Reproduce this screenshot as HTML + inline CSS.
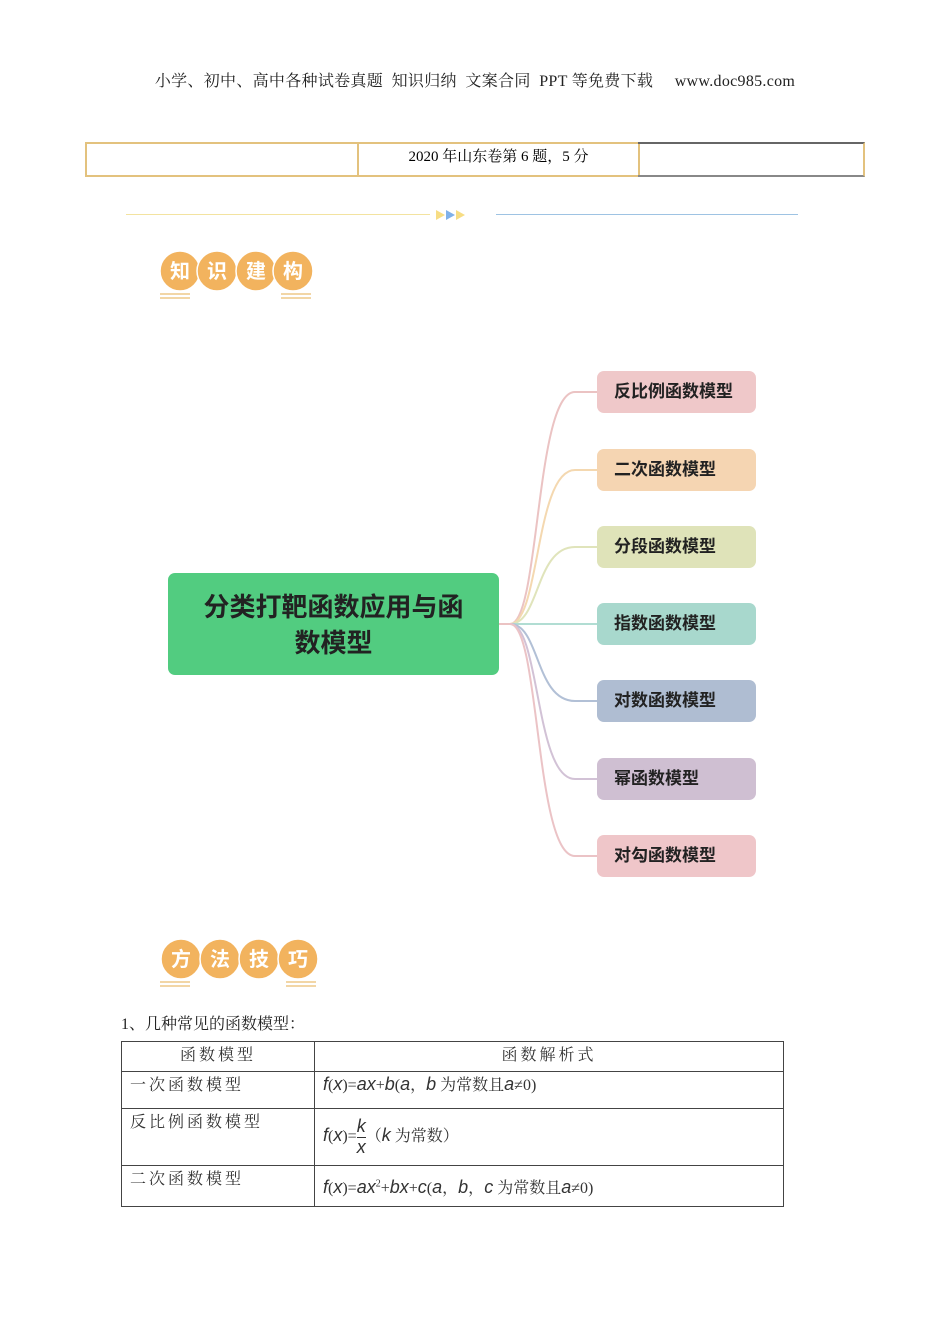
<!DOCTYPE html>
<html><head><meta charset="utf-8"><style>
body{margin:0;width:950px;height:1344px;background:#fff;position:relative;font-family:"Liberation Serif","Noto Serif CJK SC",serif;overflow:hidden}
.a{position:absolute}
.hd{left:0;width:950px;top:68px;text-align:center;font-size:16px;color:#222;letter-spacing:0.3px}
.box{position:absolute;left:597px;width:159px;height:42px;border-radius:7px;font-family:"Liberation Sans","Noto Sans CJK SC",sans-serif;font-weight:bold;font-size:17px;line-height:42px;padding-left:17px;box-sizing:border-box;color:#222}
table{border-collapse:collapse;position:absolute;left:121px;top:1041px;width:663px;font-size:16px;color:#333}
td{border:1px solid #444;vertical-align:top;padding:0 8px;letter-spacing:3px}
i{font-family:"Liberation Sans",sans-serif;font-size:18px}
</style></head><body>
<div class="a hd">小学、初中、高中各种试卷真题&nbsp; 知识归纳&nbsp; 文案合同&nbsp; PPT 等免费下载 &nbsp;&nbsp;&nbsp; www.doc985.com</div>
<div class="a" style="left:85px;top:142px;width:272px;height:31px;border:2px solid #e3c27e;border-right:none"></div>
<div class="a" style="left:357px;top:142px;width:279px;height:31px;border:2px solid #e3c27e;text-align:center;line-height:26px;font-size:15px">2020 年山东卷第 6 题，5 分</div>
<div class="a" style="left:638px;top:142px;width:225px;height:31px;border:2px solid #e3c27e;border-left:none;border-top-color:#666;border-bottom-color:#888"></div>
<div class="a" style="left:126px;top:214px;width:304px;height:1px;background:#f3e3a0"></div>
<div class="a" style="left:496px;top:214px;width:302px;height:1px;background:#9ec3e3"></div>
<svg class="a" style="left:436px;top:208px" width="40" height="14"><polygon points="0,2 9,7 0,12" fill="#f7dd84"/><polygon points="10,2 19,7 10,12" fill="#7fb1ea"/><polygon points="20,2 29,7 20,12" fill="#f7dd84"/></svg>
<svg class="a" style="left:150px;top:245px" width="180" height="60" font-family="Liberation Sans,Noto Sans CJK SC,sans-serif" font-weight="bold" font-size="20" fill="#fff" text-anchor="middle">
<g fill="#f2b35e" stroke="#fff" stroke-width="1.5"><circle cx="30" cy="26" r="20"/><circle cx="67" cy="26" r="20"/><circle cx="106" cy="26" r="20"/><circle cx="143" cy="26" r="20"/></g>
<text x="30" y="33">知</text><text x="67" y="33">识</text><text x="106" y="33">建</text><text x="143" y="33">构</text>
<g fill="#f2d6a6"><rect x="10" y="48" width="30" height="2"/><rect x="10" y="52" width="30" height="2"/><rect x="131" y="48" width="30" height="2"/><rect x="131" y="52" width="30" height="2"/></g></svg>
<svg class="a" style="left:150px;top:933px" width="180" height="60" font-family="Liberation Sans,Noto Sans CJK SC,sans-serif" font-weight="bold" font-size="20" fill="#fff" text-anchor="middle">
<g fill="#f2b35e" stroke="#fff" stroke-width="1.5"><circle cx="31" cy="26" r="20"/><circle cx="70" cy="26" r="20"/><circle cx="109" cy="26" r="20"/><circle cx="148" cy="26" r="20"/></g>
<text x="31" y="33">方</text><text x="70" y="33">法</text><text x="109" y="33">技</text><text x="148" y="33">巧</text>
<g fill="#f2d6a6"><rect x="10" y="48" width="30" height="2"/><rect x="10" y="52" width="30" height="2"/><rect x="136" y="48" width="30" height="2"/><rect x="136" y="52" width="30" height="2"/></g></svg>
<svg class="a" style="left:0;top:0" width="950" height="950" fill="none" stroke-width="2">
<path d="M498 624 H510 C540 624,535 392,575 392 H597" stroke="#ebc3c3"/>
<path d="M510 624 C540 624,535 470,575 470 H597" stroke="#f4d8b0"/>
<path d="M510 624 C540 624,535 547,575 547 H597" stroke="#e0e4bb"/>
<path d="M510 624 H597" stroke="#b1ddd3"/>
<path d="M510 624 C540 624,535 701,575 701 H597" stroke="#b2c0d6"/>
<path d="M510 624 C540 624,535 779,575 779 H597" stroke="#d2c2d6"/>
<path d="M510 624 C540 624,535 856,575 856 H597" stroke="#ebc3c6"/>
</svg>
<div class="a" style="left:168px;top:573px;width:331px;height:102px;background:#52cc80;border-radius:7px;font-family:'Liberation Sans','Noto Sans CJK SC',sans-serif;font-weight:bold;font-size:26px;color:#222;text-align:center;line-height:36px;padding-top:16px;box-sizing:border-box">分类打靶函数应用与函<br>数模型</div>
<div class="box" style="top:371px;background:#efc8c9">反比例函数模型</div>
<div class="box" style="top:449px;background:#f5d5b2">二次函数模型</div>
<div class="box" style="top:526px;background:#dfe3b9">分段函数模型</div>
<div class="box" style="top:603px;background:#a8d8cd">指数函数模型</div>
<div class="box" style="top:680px;background:#afbdd2">对数函数模型</div>
<div class="box" style="top:758px;background:#cfbfd2">幂函数模型</div>
<div class="box" style="top:835px;background:#efc6c9">对勾函数模型</div>
<div class="a" style="left:121px;top:1011px;font-size:16px;color:#222">1、几种常见的函数模型：</div>
<table>
<tr style="height:30px"><td style="width:176px;text-align:center">函数模型</td><td style="text-align:center">函数解析式</td></tr>
<tr style="height:37px"><td>一次函数模型</td><td style="letter-spacing:0"><i>f</i>(<i>x</i>)=<i>ax</i>+<i>b</i>(<i>a</i>，<i>b</i> 为常数且<i>a</i>≠0)</td></tr>
<tr style="height:57px"><td>反比例函数模型</td><td style="letter-spacing:0;vertical-align:middle"><i>f</i>(<i>x</i>)=<span style="display:inline-block;vertical-align:middle;text-align:center;line-height:18px"><i>k</i><br><span style="border-top:1px solid #333;display:block"><i>x</i></span></span>（<i>k</i> 为常数）</td></tr>
<tr style="height:41px"><td>二次函数模型</td><td style="letter-spacing:0;vertical-align:middle"><i>f</i>(<i>x</i>)=<i>ax</i><sup style="font-size:10px">2</sup>+<i>bx</i>+<i>c</i>(<i>a</i>，<i>b</i>，<i>c</i> 为常数且<i>a</i>≠0)</td></tr>
</table>
</body></html>
